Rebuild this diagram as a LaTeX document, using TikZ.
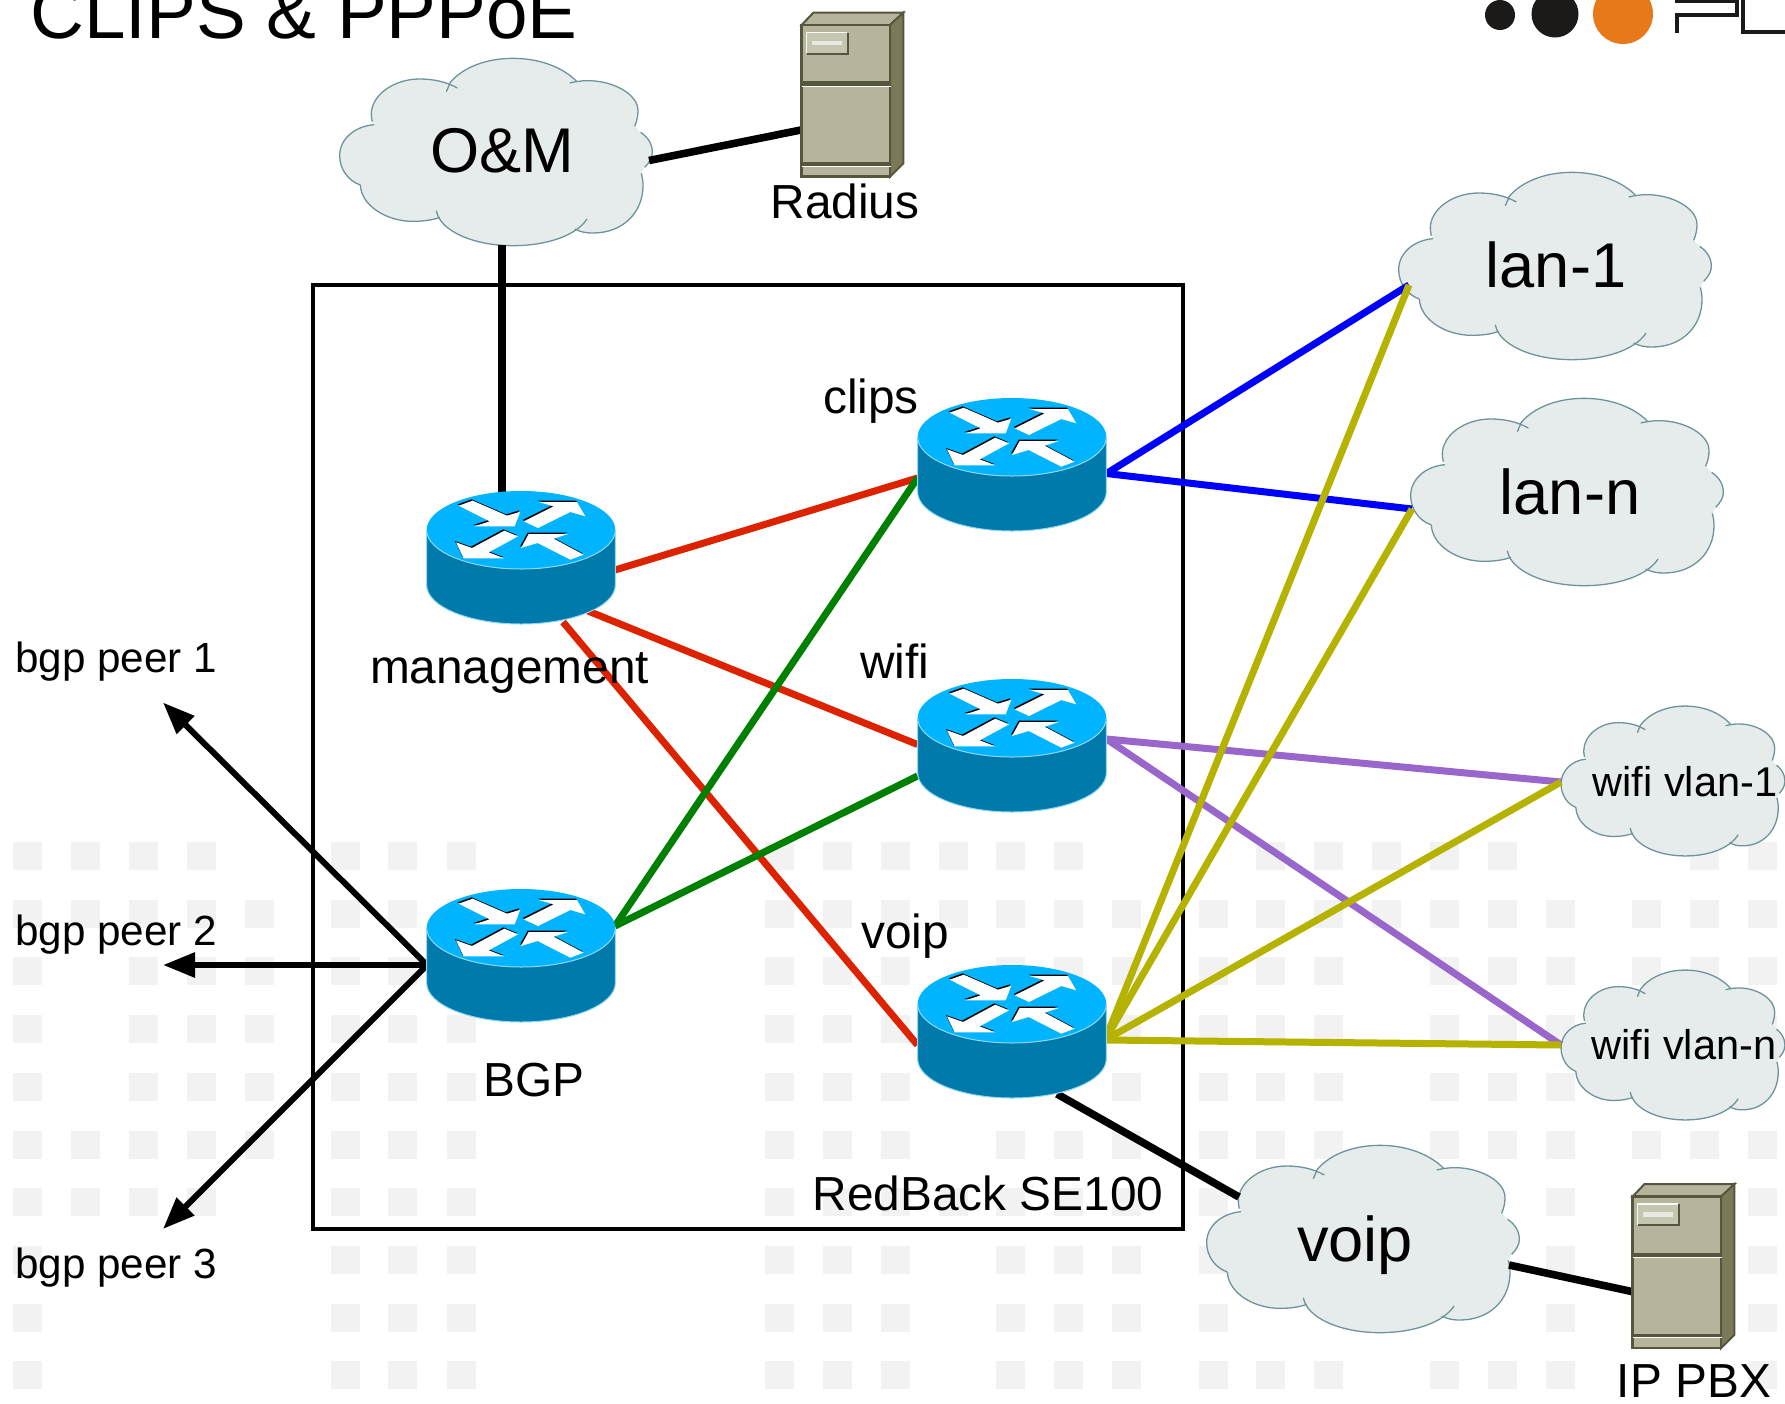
\documentclass[tikz,border=0pt]{standalone}
\usepackage{fontspec}
\setmainfont{Liberation Sans}
\usetikzlibrary{arrows.meta}
\definecolor{rtop}{HTML}{00B4FF}
\definecolor{rside}{HTML}{0079AB}
\definecolor{redge}{HTML}{8FD9F7}
\definecolor{cfill}{HTML}{E6ECEC}
\definecolor{cline}{HTML}{6F939B}
\definecolor{sface}{HTML}{B6B59B}
\definecolor{sside}{HTML}{7B7A58}
\definecolor{sdark}{HTML}{56553D}
\definecolor{sbadge}{HTML}{C6C6B0}
\definecolor{lred}{HTML}{DD2200}
\definecolor{lgreen}{HTML}{008000}
\definecolor{lblue}{HTML}{0000FF}
\definecolor{lpurple}{HTML}{9966CC}
\definecolor{lolive}{HTML}{B5B300}
\definecolor{grid}{HTML}{F2F2F2}
\definecolor{dot}{HTML}{1C1A18}
\definecolor{orange}{HTML}{E8791A}
\tikzset{
  wire/.style={line width=3.5pt},
  blackwire/.style={line width=3.8pt,black},
  peerarrow/.style={line width=3pt,black,-{Triangle[length=16pt,width=12pt]}},
  label/.style={font=\fontsize{23.9}{26}\selectfont,anchor=base,inner sep=0pt},
  peerlabel/.style={font=\fontsize{21.1}{24}\selectfont,anchor=base west,inner sep=0pt},
  bigcloudlabel/.style={font=\fontsize{31.6}{34}\selectfont,anchor=base,inner sep=0pt},
  area/.style={inner sep=0pt,outer sep=0pt}
}
% cloud: name, centre x, centre y, x scale, y scale
\newcommand\cloudshape[5]{%
  \pgfmathsetmacro\csx{0.16667*#4}%
  \pgfmathsetmacro\csy{0.16667*#5}%
  \begin{scope}[shift={(#2,#3)},x=\csx pt,y=-\csy pt,shift={(-499,-339)}]
    \fill[cfill] (92,438) .. controls (55,425) and (30,390) .. (30,350)
      .. controls (30,300) and (75,262) .. (133,257) -- (128,248)
      .. controls (126,240) and (125,232) .. (125,225)
      .. controls (125,170) and (190,120) .. (270,120)
      .. controls (310,120) and (350,128) .. (383,147) -- (362,130)
      .. controls (400,85) and (470,58) .. (550,58)
      .. controls (630,58) and (700,85) .. (742,128) -- (720,132)
      .. controls (735,128) and (755,125) .. (775,125)
      .. controls (850,125) and (925,165) .. (925,215)
      .. controls (925,230) and (922,245) .. (915,262) -- (933,280)
      .. controls (955,295) and (968,315) .. (968,340)
      .. controls (968,355) and (960,370) .. (945,385) -- (935,403)
      .. controls (938,415) and (940,425) .. (940,440)
      .. controls (940,520) and (880,582) .. (790,582)
      .. controls (770,582) and (755,580) .. (735,570) -- (772,540)
      .. controls (740,590) and (650,620) .. (550,620)
      .. controls (430,620) and (330,575) .. (320,515) -- (330,535)
      .. controls (310,543) and (280,547) .. (250,547)
      .. controls (170,547) and (95,500) .. (92,438) -- cycle;
    \begin{scope}[draw=cline,line width=0.65pt]
      \draw (133,257) .. controls (75,262) and (30,300) .. (30,350) .. controls (30,390) and (55,425) .. (92,438);
      \draw (92,438) .. controls (95,500) and (170,547) .. (250,547) .. controls (280,547) and (310,543) .. (330,535);
      \draw (320,515) .. controls (330,575) and (430,620) .. (550,620) .. controls (650,620) and (740,590) .. (772,540);
      \draw (735,570) .. controls (755,580) and (770,582) .. (790,582) .. controls (880,582) and (940,520) .. (940,440) .. controls (940,425) and (938,415) .. (935,403);
      \draw (945,385) .. controls (960,370) and (968,355) .. (968,340) .. controls (968,315) and (955,295) .. (933,280);
      \draw (915,262) .. controls (922,245) and (925,230) .. (925,215) .. controls (925,165) and (850,125) .. (775,125) .. controls (755,125) and (735,128) .. (720,132);
      \draw (742,128) .. controls (700,85) and (630,58) .. (550,58) .. controls (470,58) and (400,85) .. (362,130) -- (350,158);
      \draw (383,147) .. controls (350,128) and (310,120) .. (270,120) .. controls (190,120) and (125,170) .. (125,225) .. controls (125,232) and (126,240) .. (128,248);
    \end{scope}
    \node[area,minimum width=\csx*938 pt,minimum height=\csy*562 pt] (#1) at (499,339) {};
  \end{scope}}
% router: name, centre x, centre y of top face
\newcommand\routershape[3]{%
  \begin{scope}[shift={(#2,#3)},x=0.16667pt,y=-0.16667pt]
    \fill[rside] (-283,0) -- (-283,165) arc[x radius=283,y radius=117,start angle=180,end angle=0] -- (283,0) -- cycle;
    \draw[redge,line width=0.5pt] (-283,0) -- (-283,165) arc[x radius=283,y radius=117,start angle=180,end angle=0] -- (283,0);
    \fill[rtop] (0,0) ellipse[x radius=283,y radius=117];
    \draw[redge,line width=0.5pt] (-283,0) arc[x radius=283,y radius=117,start angle=180,end angle=0];
    \begin{scope}[shift={(-362,-181)}]
      \foreach \ox/\oy/\col in {-3/-4/black,0/0/white}{
        \begin{scope}[shift={(\ox,\oy)}]
          \fill[\col] (175,108) -- (217,93) -- (320,138) -- (360,126) -- (343,170) -- (222,170) -- (268,155) -- cycle;
          \fill[\col] (370,155) -- (460,110) -- (415,97) -- (530,97) -- (555,140) -- (510,127) -- (413,175) -- cycle;
          \fill[\col] (312,183) -- (353,200) -- (265,248) -- (312,266) -- (190,266) -- (167,218) -- (215,235) -- cycle;
          \fill[\col] (385,193) -- (503,193) -- (460,207) -- (550,255) -- (510,270) -- (412,220) -- (362,235) -- cycle;
        \end{scope}}
    \end{scope}
    \node[area,minimum width=94pt,minimum height=66pt,anchor=north] (#1) at (0,-117) {};
  \end{scope}}
% server: name, offset x, offset y
\newcommand\servershape[3]{%
  \begin{scope}[shift={(#2,#3)},x=0.16667pt,y=-0.16667pt]
    \filldraw[fill=sface,draw=sdark,line width=1pt] (125,75) -- (160,38) -- (430,38) -- (390,75) -- cycle;
    \filldraw[fill=sside,draw=sdark,line width=1pt] (390,75) -- (430,38) -- (430,490) -- (390,530) -- cycle;
    \filldraw[fill=sface,draw=sdark,line width=1.2pt] (125,75) rectangle (390,530);
    \fill[sdark] (125,243) rectangle (390,258);
    \draw[white,line width=0.5pt] (125,259) -- (394,259);
    \fill[sdark] (125,486) rectangle (390,497);
    \draw[white,line width=0.5pt] (125,498) -- (394,498);
    \fill[sbadge] (140,98) rectangle (262,160);
    \draw[sdark,line width=0.9pt] (264,98) -- (264,161) -- (140,161);
    \draw[white!90!sface,line width=0.7pt] (140,160) -- (140,98) -- (262,98);
    \fill[white!70!sface] (155,122) rectangle (245,135);
    \node[area,minimum width=52pt,minimum height=82pt] (#1) at (277,284) {};
  \end{scope}}
\begin{document}
\begin{tikzpicture}[x=0.5pt,y=-0.5pt]
\clip (0,0) rectangle (1785,1404);
\fill[white] (0,0) rectangle (1785,1404);
% background pattern
\foreach \rw/\cols in {
 0/{13,71,129,187,331,388,447,765,823,881,939,996,1054,1256,1314,1372,1430,1488,1690,1748},
 1/{13,71,129,187,245,331,388,447,765,823,881,939,996,1054,1112,1199,1256,1314,1372,1430,1488,1546,1632,1690,1748},
 2/{13,129,187,245,331,388,447,765,823,881,996,1054,1112,1199,1256,1314,1430,1488,1546,1632,1690,1748},
 3/{13,129,187,245,331,388,447,765,823,881,1112,1199,1256,1314,1430,1488,1546,1748},
 4/{13,129,187,245,331,388,447,765,823,881,1112,1199,1256,1314,1430,1488,1546},
 5/{13,71,129,187,245,331,388,447,765,823,881,996,1054,1112,1199,1256,1314,1430,1488,1546,1632,1690,1748},
 6/{13,71,129,187,331,388,447,765,823,881,939,996,1054,1112,1199,1546,1748},
 7/{13,331,388,447,765,823,881,996,1054,1112,1199,1546,1748},
 8/{13,331,388,447,765,823,881,996,1054,1112,1199,1546,1748},
 9/{13,331,388,447,765,823,881,996,1054,1112,1199,1256,1314,1430,1488,1546,1748}}{
  \foreach \cc in \cols {
    \fill[grid] (\cc,842+57.7*\rw) rectangle ++(28.5,28);
  }}
% title and logo
\node[anchor=base west,inner sep=0pt,font=\fontsize{37.3}{40}\selectfont] (title) at (30,38) {CLIPS \& PPPoE};
\fill[dot] (1500,15) circle[radius=15];
\fill[dot] (1555,14) circle[radius=23.5];
\fill[orange] (1623,14) circle[radius=30];
\draw[dot,line width=2pt] (1677,33) -- (1677,14.5) -- (1737,14.5) -- (1737,1) -- (1675,1);
\draw[dot,line width=2pt] (1743,-2) -- (1743,32) -- (1785,32);
% appliance box
\draw[black,line width=1.6pt] (313,285) rectangle (1183,1229);
\node[area,minimum width=435pt,minimum height=472pt] (se100) at (748,757) {};
% clouds
\cloudshape{om}{496}{152}{1}{1}
\cloudshape{lan1}{1555}{266}{1}{1}
\cloudshape{lann}{1567}{492}{1}{1}
\cloudshape{voipc}{1363}{1239}{1}{1}
\cloudshape{vlan1}{1673}{781}{0.716}{0.8}
\cloudshape{vlann}{1673}{1045}{0.716}{0.8}
% connector ends
\coordinate (mgmt-e) at (615,570);
\coordinate (mgmt-s1) at (588,611);
\coordinate (mgmt-s2) at (563,622);
\coordinate (mgmt-n) at (502,492);
\coordinate (clips-w) at (917.5,478);
\coordinate (clips-e) at (1106.5,473.5);
\coordinate (wifi-w1) at (917.5,744.5);
\coordinate (wifi-w2) at (917.5,776);
\coordinate (wifi-e) at (1106.5,739);
\coordinate (voipr-w) at (917.5,1045);
\coordinate (voipr-e) at (1105,1040);
\coordinate (voipr-s) at (1057,1094);
\coordinate (bgp-e) at (615,926);
\coordinate (bgp-w) at (427,965);
\coordinate (lan1-w) at (1409,285);
\coordinate (lann-w) at (1412,509);
\coordinate (vlan1-w) at (1561,782);
\coordinate (vlann-w) at (1561,1045);
\coordinate (voipc-nw) at (1239,1197);
\coordinate (voipc-e) at (1509,1265);
\coordinate (om-s) at (502,245);
\coordinate (om-e) at (649,160.5);
\coordinate (radius-w) at (801,130);
\coordinate (pbx-w) at (1634,1292);
\coordinate (peer1) at (163,702.5);
\coordinate (peer2) at (163,965);
\coordinate (peer3) at (163,1229);
% connectors
\draw[wire,lred] (mgmt-e) -- (clips-w);
\draw[wire,lred] (mgmt-s1) -- (wifi-w1);
\draw[wire,lred] (mgmt-s2) -- (voipr-w);
\draw[wire,lgreen] (bgp-e) -- (clips-w);
\draw[wire,lgreen] (bgp-e) -- (wifi-w2);
\draw[wire,lblue] (clips-e) -- (lan1-w);
\draw[wire,lblue] (clips-e) -- (lann-w);
\draw[wire,lpurple] (wifi-e) -- (vlan1-w);
\draw[wire,lpurple] (wifi-e) -- (vlann-w);
\draw[wire,lolive] (voipr-e) -- (lan1-w);
\draw[wire,lolive] (voipr-e) -- (lann-w);
\draw[wire,lolive] (voipr-e) -- (vlan1-w);
\draw[wire,lolive] (voipr-e) -- (vlann-w);
\draw[blackwire] (om-s) -- (mgmt-n);
\draw[blackwire] (om-e) -- (radius-w);
\draw[blackwire] (voipr-s) -- (voipc-nw);
\draw[blackwire] (voipc-e) -- (pbx-w);
\draw[peerarrow] (bgp-w) -- (peer1);
\draw[peerarrow] (bgp-w) -- (peer2);
\draw[peerarrow] (bgp-w) -- (peer3);
% routers and servers
\routershape{mgmt}{521}{530}
\routershape{clips}{1012}{437}
\routershape{wifi}{1012}{718}
\routershape{voipr}{1012}{1004}
\routershape{bgp}{521}{928}
\servershape{radius}{760}{0}
\servershape{pbx}{1591}{1171.5}
% labels
\node[bigcloudlabel] (omt) at (502,172) {O\&M};
\node[bigcloudlabel] (lan1t) at (1556,287) {lan-1};
\node[bigcloudlabel] (lannt) at (1570,514) {lan-n};
\node[bigcloudlabel] (voipct) at (1355,1261) {voip};
\node[peerlabel,font=\fontsize{20.8}{24}\selectfont] (vlan1t) at (1592,796) {wifi vlan-1};
\node[peerlabel,font=\fontsize{20.8}{24}\selectfont] (vlannt) at (1591,1059) {wifi vlan-n};
\node[label] (radiust) at (845,218) {Radius};
\node[label] (clipst) at (871,413) {clips};
\node[label] (wifit) at (895,678) {wifi};
\node[label] (voiprt) at (905,948) {voip};
\node[label] (mgmtt) at (509.5,683) {management};
\node[label] (bgpt) at (534,1096) {BGP};
\node[label] (se100t) at (988,1210) {RedBack SE100};
\node[label] (pbxt) at (1694,1397) {IP PBX};
\node[peerlabel] (peer1t) at (15,672) {bgp peer 1};
\node[peerlabel] (peer2t) at (15,945) {bgp peer 2};
\node[peerlabel] (peer3t) at (15,1278) {bgp peer 3};
\end{tikzpicture}
\end{document}
